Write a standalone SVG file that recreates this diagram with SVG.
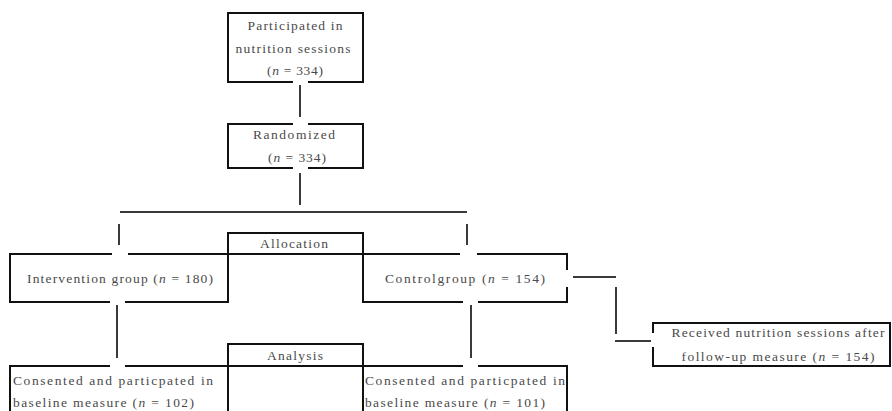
<svg xmlns="http://www.w3.org/2000/svg" width="892" height="411" viewBox="0 0 892 411">
<style>
.box{fill:none;stroke:#111;stroke-width:2}
.con{fill:none;stroke:#3a3a3a;stroke-width:2}
text{font-family:"Liberation Serif","Times New Roman",serif;font-size:13.5px;fill:#4a4a4a}
.c{text-anchor:middle}
.i{font-style:italic}
</style>
<rect width="892" height="411" fill="#fff"/>
<g id="connectors">
<path class="con" d="M300,85 V117"/>
<path class="con" d="M300,173 V205"/>
<path class="con" d="M120,212 H467"/>
<path class="con" d="M119,224 V245"/>
<path class="con" d="M467,224 V245"/>
<path class="con" d="M117,305 V358"/>
<path class="con" d="M471,305 V358"/>
<path class="con" d="M573,277 H616"/>
<path class="con" d="M616,287 V334"/>
<path class="con" d="M615,341 H651"/>
</g>
<g id="participated">
<path class="box" d="M293,82 H228 V13 H363 V82 H308"/>
<text x="295" y="30" textLength="95" lengthAdjust="spacing" class="c">Participated in</text>
<text x="293" y="53" textLength="115" lengthAdjust="spacing" class="c">nutrition sessions</text>
<text x="295" y="75" textLength="56" lengthAdjust="spacing" class="c">(<tspan class="i">n</tspan> = 334)</text>
</g>
<g id="randomized">
<path class="box" d="M293,124 H228 V168 H293 M308,168 H363 V124 H308"/>
<text x="294" y="139" textLength="82" lengthAdjust="spacing" class="c">Randomized</text>
<text x="297" y="162" textLength="58" lengthAdjust="spacing" class="c">(<tspan class="i">n</tspan> = 334)</text>
</g>
<g id="allocation">
<path class="box" d="M228,302 V233 H363 V302 M228,254 H363"/>
<text x="294" y="248" textLength="68" lengthAdjust="spacing" class="c">Allocation</text>
</g>
<g id="intervention">
<path class="box" d="M112,254 H10 V302 H110 M125,302 H228 V254 H128"/>
<text x="27" y="283" textLength="186" lengthAdjust="spacing">Intervention group (<tspan class="i">n</tspan> = 180)</text>
</g>
<g id="control">
<path class="box" d="M460,254 H363 V302 H463 M478,302 H567 V287 M567,270 V254 H477"/>
<text x="385" y="283" textLength="160" lengthAdjust="spacing">Controlgroup (<tspan class="i">n</tspan> = 154)</text>
</g>
<g id="received">
<path class="box" d="M653,333 V323 H890 V366 H653 V347"/>
<text x="778" y="337" textLength="213" lengthAdjust="spacing" class="c">Received nutrition sessions after</text>
<text x="778" y="361" textLength="193" lengthAdjust="spacing" class="c">follow-up measure (<tspan class="i">n</tspan> = 154)</text>
</g>
<g id="analysis">
<path class="box" d="M228,413 V344 H363 V413 M228,366 H363"/>
<text x="295" y="360" textLength="56" lengthAdjust="spacing" class="c">Analysis</text>
</g>
<g id="consented-intervention">
<path class="box" d="M110,366 H10 V413 M125,366 H228"/>
<text x="13" y="385" textLength="200" lengthAdjust="spacing">Consented and particpated in</text>
<text x="13" y="407" textLength="181" lengthAdjust="spacing">baseline measure (<tspan class="i">n</tspan> = 102)</text>
</g>
<g id="consented-control">
<path class="box" d="M463,366 H363 M478,366 H567 V413"/>
<text x="365" y="385" textLength="200" lengthAdjust="spacing">Consented and particpated in</text>
<text x="365" y="407" textLength="180" lengthAdjust="spacing">baseline measure (<tspan class="i">n</tspan> = 101)</text>
</g>
</svg>
